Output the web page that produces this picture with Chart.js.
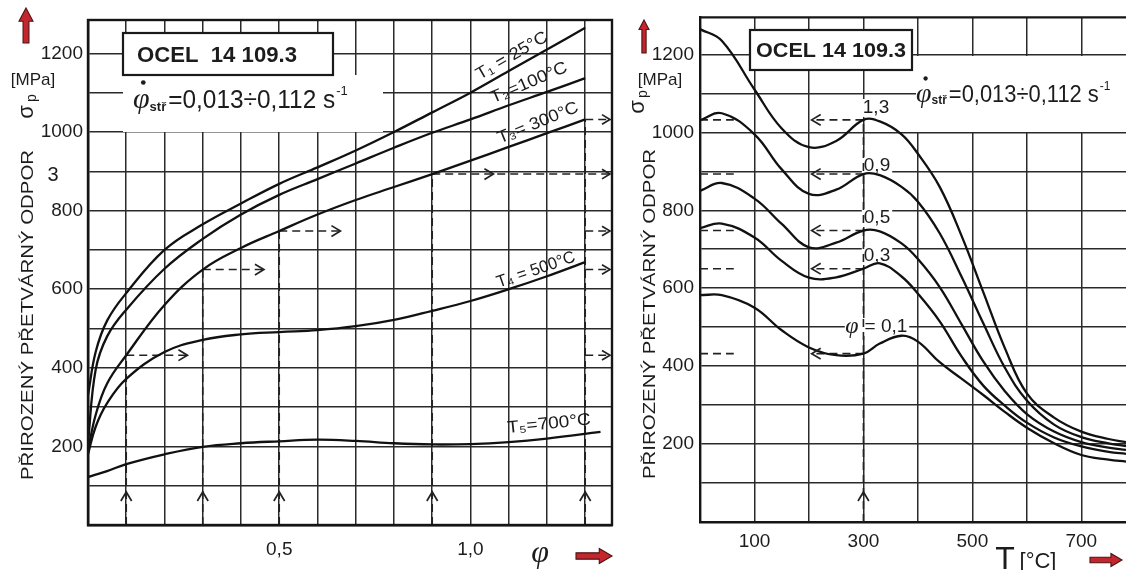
<!DOCTYPE html>
<html>
<head>
<meta charset="utf-8">
<script src="https://cdn.jsdelivr.net/npm/chart.js@4.4.1/dist/chart.umd.min.js"></script>
<style>
  body { margin: 0; background: #fff; width: 1126px; height: 570px; overflow: hidden; position: relative; }
  #wrapL { position: absolute; left: 0; top: 0; width: 620px; height: 570px; }
  #wrapR { position: absolute; left: 620px; top: 0; width: 506px; height: 570px; }
</style>
</head>
<body>
<div id="wrapL"><canvas id="chartL" width="620" height="570"></canvas></div>
<div id="wrapR"><canvas id="chartR" width="506" height="570"></canvas></div>
<script>
// Levý graf: přirozený přetvárný odpor σp [MPa] v závislosti na deformaci φ
const phiPts  = [0, 0.02, 0.05, 0.1, 0.2, 0.3, 0.4, 0.5, 0.6, 0.7, 0.8, 0.9, 1.0, 1.1, 1.2, 1.3];
const sigT1   = [330, 440, 520, 590, 700, 765, 818, 868, 910, 953, 1000, 1050, 1100, 1155, 1210, 1265];
const sigT2   = [210, 395, 480, 548, 652, 728, 790, 840, 880, 920, 960, 998, 1032, 1068, 1102, 1137];
const sigT3   = [190, 280, 360, 432, 560, 650, 705, 748, 790, 827, 860, 893, 927, 962, 997, 1032];
const sigT4   = [180, 250, 310, 372, 440, 471, 485, 491, 496, 506, 522, 545, 570, 600, 633, 669];
const phiPts5 = [0, 0.02, 0.05, 0.1, 0.2, 0.3, 0.4, 0.5, 0.6, 0.7, 0.8, 0.9, 1.0, 1.1, 1.2, 1.34];
const sigT5   = [122, 128, 137, 155, 180, 199, 208, 213, 217, 214, 208, 205, 206, 211, 220, 237];

// Pravý graf: σp [MPa] v závislosti na teplotě T [°C] pro různá φ
const tPts      = [0, 40, 100, 150, 200, 250, 300, 330, 370, 400, 440, 480, 520, 560, 600, 650, 700, 750, 782];
const sigPhi13  = [1265, 1235, 1110, 1010, 962, 978, 1032, 1028, 995, 945, 860, 735, 590, 445, 330, 268, 232, 213, 205];
const sigPhi09  = [1031, 1049, 995, 905, 842, 853, 893, 890, 860, 822, 741, 630, 510, 395, 312, 250, 218, 202, 195];
const sigPhi05  = [850, 870, 830, 765, 705, 717, 748, 746, 715, 675, 603, 508, 412, 335, 277, 232, 205, 191, 185];
const sigPhi03  = [754, 766, 730, 670, 627, 628, 650, 664, 630, 586, 515, 425, 350, 298, 255, 217, 194, 180, 175];
const sigPhi01  = [582, 582, 550, 492, 448, 428, 432, 458, 478, 463, 410, 368, 326, 282, 242, 202, 172, 160, 155];

// Odečtené hodnoty při T = 300 °C (čárkované šipky)
const phiMarks = [0.1, 0.3, 0.5, 0.9, 1.3];
const sigma300 = [432, 650, 748, 893, 1032];

// Osy
const yTicks  = [0, 100, 200, 300, 400, 500, 600, 700, 800, 900, 1000, 1100, 1200];
const xTicksL = [0, 0.1, 0.2, 0.3, 0.4, 0.5, 0.6, 0.7, 0.8, 0.9, 1.0, 1.1, 1.2, 1.3];
const xTicksR = [0, 100, 200, 300, 400, 500, 600, 700];

const ink = '#1c1c1c';
const SANS = '"Liberation Sans", Arial, sans-serif';
const SERIF = '"Liberation Serif", "DejaVu Serif", serif';

function pts(xs, ys) { return xs.map((x, i) => ({ x: x, y: ys[i] })); }

function curve(xs, ys) {
  return { data: pts(xs, ys), borderColor: '#111', borderWidth: 2.3, pointRadius: 0,
           tension: 0.4, fill: false };
}
function dashed(data) {
  return { data: data, borderColor: '#222', borderWidth: 1.6, borderDash: [8, 5],
           pointRadius: 0, tension: 0, fill: false };
}

// Text s volitelnou rotací a vodorovným roztažením na šířku w
function txt(ctx, s, x, y, font, o = {}) {
  ctx.save();
  ctx.translate(x, y);
  if (o.rot) ctx.rotate(o.rot * Math.PI / 180);
  ctx.font = font;
  if (o.w) ctx.scale(o.w / ctx.measureText(s).width, 1);
  ctx.fillStyle = o.color || ink;
  ctx.textAlign = o.align || 'center';
  ctx.textBaseline = 'middle';
  ctx.fillText(s, 0, 0);
  ctx.restore();
}

function arrowHead(ctx, x, y, dir, size) {
  ctx.save();
  ctx.setLineDash([]);
  ctx.strokeStyle = '#222';
  ctx.lineWidth = 1.7;
  ctx.beginPath();
  const h = size * 0.6;
  if (dir === 'r') { ctx.moveTo(x - size, y - h); ctx.lineTo(x, y); ctx.lineTo(x - size, y + h); }
  if (dir === 'l') { ctx.moveTo(x + size, y - h); ctx.lineTo(x, y); ctx.lineTo(x + size, y + h); }
  if (dir === 'u') { ctx.moveTo(x - h, y + size); ctx.lineTo(x, y); ctx.lineTo(x + h, y + size); }
  ctx.stroke();
  ctx.restore();
}

function redUp(ctx, cx, top, bottom, w) {
  const sw = w * 0.42, hh = w * 0.95;
  ctx.save();
  ctx.beginPath();
  ctx.moveTo(cx, top);
  ctx.lineTo(cx + w / 2, top + hh);
  ctx.lineTo(cx + sw / 2, top + hh);
  ctx.lineTo(cx + sw / 2, bottom);
  ctx.lineTo(cx - sw / 2, bottom);
  ctx.lineTo(cx - sw / 2, top + hh);
  ctx.lineTo(cx - w / 2, top + hh);
  ctx.closePath();
  ctx.fillStyle = '#c5262d';
  ctx.fill();
  ctx.strokeStyle = '#4a1515';
  ctx.lineWidth = 1.1;
  ctx.stroke();
  ctx.restore();
}

function redRight(ctx, left, right, cy, h) {
  const sh = h * 0.42, hw = h * 0.85;
  ctx.save();
  ctx.beginPath();
  ctx.moveTo(right, cy);
  ctx.lineTo(right - hw, cy - h / 2);
  ctx.lineTo(right - hw, cy - sh / 2);
  ctx.lineTo(left, cy - sh / 2);
  ctx.lineTo(left, cy + sh / 2);
  ctx.lineTo(right - hw, cy + sh / 2);
  ctx.lineTo(right - hw, cy + h / 2);
  ctx.closePath();
  ctx.fillStyle = '#c5262d';
  ctx.fill();
  ctx.strokeStyle = '#4a1515';
  ctx.lineWidth = 1.1;
  ctx.stroke();
  ctx.restore();
}

// φ̇ stř = 0,013 ÷ 0,112 s⁻¹
function rateText(ctx, x, y, size, restW) {
  ctx.save();
  ctx.fillStyle = ink;
  ctx.textAlign = 'left';
  ctx.textBaseline = 'alphabetic';
  ctx.font = `italic ${Math.round(size * 1.15)}px ${SERIF}`;
  ctx.fillText('φ', x, y);
  const wPhi = ctx.measureText('φ').width;
  ctx.beginPath();
  ctx.arc(x + wPhi * 0.62, y - size * 0.98, size * 0.09, 0, Math.PI * 2);
  ctx.fill();
  ctx.font = `bold ${Math.round(size * 0.5)}px ${SANS}`;
  ctx.fillText('stř', x + wPhi, y + size * 0.1);
  const x2 = x + wPhi + ctx.measureText('stř').width + 2;
  ctx.font = `${size}px ${SANS}`;
  const s = '=0,013÷0,112 s';
  ctx.save();
  ctx.translate(x2, y);
  ctx.scale(restW / ctx.measureText(s).width, 1);
  ctx.fillText(s, 0, 0);
  ctx.restore();
  ctx.font = `${Math.round(size * 0.5)}px ${SANS}`;
  ctx.fillText('-1', x2 + restW + 1, y - size * 0.5);
  ctx.restore();
}

function whiteBox(ctx, x, y, w, h, border) {
  ctx.save();
  ctx.fillStyle = '#fff';
  ctx.fillRect(x, y, w, h);
  if (border) { ctx.strokeStyle = '#1a1a1a'; ctx.lineWidth = 2.2; ctx.strokeRect(x, y, w, h); }
  ctx.restore();
}

function scaleOpts(ticks, min, max, fit, label, pad) {
  return {
    type: 'linear', min: min, max: max,
    afterBuildTicks: s => { s.ticks = ticks.map(v => ({ value: v })); },
    afterFit: fit,
    ticks: { autoSkip: false, maxRotation: 0, padding: pad, color: ink,
             font: { family: 'Liberation Sans', size: 19 }, callback: label },
    grid: { color: '#2a2a2a', lineWidth: 1.5, drawTicks: false },
    border: { color: '#151515', width: 2.4 }
  };
}

// ---------- levý graf ----------
const dashL = [];
phiMarks.forEach((p, i) => {
  const s = sigma300[i];
  dashL.push(dashed([{ x: p, y: 0 }, { x: p, y: s }]));
  const end = (p >= 0.9) ? 1.37 : p + 0.16;
  dashL.push(dashed([{ x: p, y: s }, { x: end, y: s }]));
  if (p < 0.9) dashL.push(dashed([{ x: 1.3, y: s }, { x: 1.37, y: s }]));
});

const plugL = {
  id: 'decorL',
  beforeDatasetsDraw(chart) {
    const ctx = chart.ctx;
    whiteBox(ctx, 123, 75, 260, 57, false);
    whiteBox(ctx, 123, 33, 210, 42, true);
  },
  afterDraw(chart) {
    const ctx = chart.ctx, xs = chart.scales.x, ys = chart.scales.y, a = chart.chartArea;
    ctx.save();
    ctx.strokeStyle = '#151515';
    ctx.lineWidth = 2.4;
    ctx.strokeRect(a.left, a.top, a.right - a.left, a.bottom - a.top);
    ctx.restore();
    // šipky čárkovaných čar
    phiMarks.forEach((p, i) => {
      const s = sigma300[i];
      arrowHead(ctx, xs.getPixelForValue(p), ys.getPixelForValue(84), 'u', 9);
      if (p < 0.9) arrowHead(ctx, xs.getPixelForValue(p + 0.16), ys.getPixelForValue(s), 'r', 9);
      if (p === 0.9) arrowHead(ctx, xs.getPixelForValue(1.06), ys.getPixelForValue(s), 'r', 9);
      arrowHead(ctx, a.right - 2, ys.getPixelForValue(s), 'r', 8);
    });
    txt(ctx, 'OCEL  14 109.3', 217, 56, `bold 22px ${SANS}`, { w: 160 });
    rateText(ctx, 133, 108, 26, 167);
    // popisky křivek
    txt(ctx, 'T₁ = 25°C', 512, 56, `17px ${SANS}`, { rot: -30, w: 80 });
    txt(ctx, 'T₂=100°C', 529, 83, `17px ${SANS}`, { rot: -23, w: 82 });
    txt(ctx, 'T₃= 300°C', 538, 123, `17px ${SANS}`, { rot: -22, w: 86 });
    txt(ctx, 'T₄ = 500°C', 536, 270, `17px ${SANS}`, { rot: -19, w: 82 });
    txt(ctx, 'T₅=700°C', 549, 424, `17px ${SANS}`, { rot: -6, w: 84 });
    // osy
    redUp(ctx, 26, 8, 43, 14);
    txt(ctx, '[MPa]', 33, 80, `17px ${SANS}`);
    txt(ctx, 'σ', 27, 112, `22px ${SANS}`, { rot: -90 });
    txt(ctx, 'p', 32, 98, `14px ${SANS}`, { rot: -90 });
    txt(ctx, '3', 53, 175, `20px ${SANS}`);
    txt(ctx, 'PŘIROZENÝ PŘETVÁRNÝ ODPOR', 28, 315, `17px ${SANS}`, { rot: -90, w: 330 });
    txt(ctx, 'φ', 540, 554, `italic 32px ${SERIF}`);
    redRight(ctx, 576, 612, 556, 15);
  }
};

new Chart(document.getElementById('chartL'), {
  type: 'line',
  data: {
    datasets: [
      curve(phiPts, sigT1), curve(phiPts, sigT2), curve(phiPts, sigT3),
      curve(phiPts, sigT4), curve(phiPts5, sigT5)
    ].concat(dashL)
  },
  options: {
    responsive: false, animation: false,
    layout: { padding: { top: 20, right: 8, left: 0, bottom: 0 } },
    plugins: { legend: { display: false }, tooltip: { enabled: false } },
    scales: {
      x: scaleOpts(xTicksL, 0, 1.37, s => { s.height = 45; },
                   v => (Math.abs(v - 0.5) < 1e-6 ? '0,5' : Math.abs(v - 1) < 1e-6 ? '1,0' : ''), 13),
      y: scaleOpts(yTicks, 0, 1285, s => { s.width = 88; },
                   v => (v > 0 && v % 200 === 0 ? String(v) : ''), 5)
    }
  },
  plugins: [plugL]
});

// ---------- pravý graf ----------
const dashR = [dashed([{ x: 300, y: 0 }, { x: 300, y: sigma300[4] }])];
sigma300.forEach(s => {
  dashR.push(dashed([{ x: 300, y: s }, { x: 205, y: s }]));
  dashR.push(dashed([{ x: 0, y: s }, { x: 62, y: s }]));
});

const plugR = {
  id: 'decorR',
  beforeDatasetsDraw(chart) {
    const ctx = chart.ctx;
    whiteBox(ctx, 296, 56, 210, 76, false);
    whiteBox(ctx, 130, 30, 162, 40, true);
    // popisky φ
    const labs = [['1,3', 256, 108], ['0,9', 257, 166], ['0,5', 257, 218], ['0,3', 257, 256], ['φ = 0,1', 257, 327]];
    labs.forEach(l => {
      ctx.font = `19px ${SANS}`;
      const w = ctx.measureText(l[0]).width;
      whiteBox(ctx, l[1] - w / 2 - 2, l[2] - 9, w + 4, 18, false);
    });
  },
  afterDraw(chart) {
    const ctx = chart.ctx, xs = chart.scales.x, ys = chart.scales.y, a = chart.chartArea;
    ctx.save();
    ctx.strokeStyle = '#151515';
    ctx.lineWidth = 2.4;
    ctx.beginPath();
    ctx.moveTo(a.left, a.top);
    ctx.lineTo(a.right, a.top);
    ctx.stroke();
    ctx.restore();
    arrowHead(ctx, xs.getPixelForValue(300), ys.getPixelForValue(77), 'u', 9);
    sigma300.forEach(s => arrowHead(ctx, xs.getPixelForValue(205), ys.getPixelForValue(s), 'l', 9));
    txt(ctx, 'OCEL 14 109.3', 211, 51, `bold 20px ${SANS}`, { w: 150 });
    rateText(ctx, 296, 102, 24, 150);
    txt(ctx, '1,3', 256, 108, `19px ${SANS}`);
    txt(ctx, '0,9', 257, 166, `19px ${SANS}`);
    txt(ctx, '0,5', 257, 218, `19px ${SANS}`);
    txt(ctx, '0,3', 257, 256, `19px ${SANS}`);
    txt(ctx, '= 0,1', 266, 327, `19px ${SANS}`);
    txt(ctx, 'φ', 232, 327, `italic 24px ${SERIF}`);
    redUp(ctx, 24, 20, 53, 10);
    txt(ctx, '[MPa]', 40, 80, `17px ${SANS}`);
    txt(ctx, 'σ', 18, 107, `22px ${SANS}`, { rot: -90 });
    txt(ctx, 'p', 23, 94, `14px ${SANS}`, { rot: -90 });
    txt(ctx, 'PŘIROZENÝ PŘETVÁRNÝ ODPOR', 30, 314, `17px ${SANS}`, { rot: -90, w: 330 });
    txt(ctx, 'T', 385, 560, `32px ${SANS}`);
    txt(ctx, '[°C]', 418, 562, `22px ${SANS}`);
    redRight(ctx, 470, 502, 560, 13);
  }
};

new Chart(document.getElementById('chartR'), {
  type: 'line',
  data: {
    datasets: [
      curve(tPts, sigPhi13), curve(tPts, sigPhi09), curve(tPts, sigPhi05),
      curve(tPts, sigPhi03), curve(tPts, sigPhi01)
    ].concat(dashR)
  },
  options: {
    responsive: false, animation: false,
    layout: { padding: { top: 17, right: 0, left: 0, bottom: 0 } },
    plugins: { legend: { display: false }, tooltip: { enabled: false } },
    scales: {
      x: scaleOpts(xTicksR, 0, 782, s => { s.height = 48; },
                   v => ([100, 300, 500, 700].includes(v) ? String(v) : ''), 8),
      y: scaleOpts(yTicks, 0, 1295, s => { s.width = 80; },
                   v => (v > 0 && v % 200 === 0 ? String(v) : ''), 6)
    }
  },
  plugins: [plugR]
});
</script>
</body>
</html>
